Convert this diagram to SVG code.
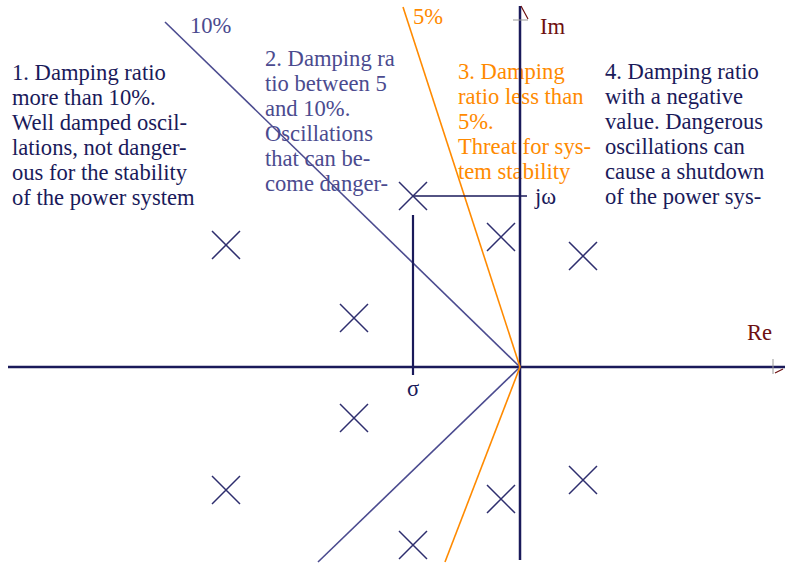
<svg xmlns="http://www.w3.org/2000/svg" width="785" height="565" viewBox="0 0 785 565">
<style>
.t{font-family:"Liberation Serif","Times New Roman","DejaVu Serif",serif;font-size:22.6px}
.navy{fill:#1a1a5a}
.slate{fill:#4b4b8f}
.orange{fill:#ff8a00}
.maroon{fill:#6e1010}
.x{stroke:#2e2e6e;stroke-width:1.5;fill:none}
</style>
<rect width="785" height="565" fill="#fff"/>
<g id="text1" class="t navy">
<text x="12" y="80">1. Damping ratio</text>
<text x="12" y="105">more than 10%.</text>
<text x="12" y="130">Well damped oscil-</text>
<text x="12" y="155">lations, not danger-</text>
<text x="12" y="180">ous for the stability</text>
<text x="12" y="205">of the power system</text>
</g>
<g id="text2" class="t slate">
<text x="265" y="66">2. Damping ra</text>
<text x="265" y="91">tio between 5</text>
<text x="265" y="116">and 10%.</text>
<text x="265" y="141">Oscillations</text>
<text x="265" y="166">that can be-</text>
<text x="265" y="191">come danger-</text>
</g>
<g id="text3" class="t orange">
<text x="458" y="79">3. Damping</text>
<text x="458" y="104">ratio less than</text>
<text x="458" y="129">5%.</text>
<text x="458" y="154">Threat for sys-</text>
<text x="458" y="179">tem stability</text>
</g>
<g id="text4" class="t navy">
<text x="605" y="79">4. Damping ratio</text>
<text x="605" y="104">with a negative</text>
<text x="605" y="129">value. Dangerous</text>
<text x="605" y="154">oscillations can</text>
<text x="605" y="179">cause a shutdown</text>
<text x="605" y="204">of the power sys-</text>
</g>
<g id="connectors">
<line x1="8" y1="367" x2="785" y2="367" stroke="#1a1a5a" stroke-width="2.5"/>
<line x1="520" y1="6" x2="520" y2="560" stroke="#1a1a5a" stroke-width="2.5"/>
<path d="M513 20 H528 M773 359 V374" stroke="#999" stroke-width="1" fill="none"/>
<path d="M521 6 L528 19 M775 373 L783 369" stroke="#6e1010" stroke-width="1.2" fill="none"/>
<line x1="165" y1="22" x2="520" y2="367" stroke="#4b4b8f" stroke-width="1.6"/>
<line x1="520" y1="367" x2="318" y2="562" stroke="#4b4b8f" stroke-width="1.6"/>
<line x1="403" y1="7" x2="520" y2="367" stroke="#ff8a00" stroke-width="1.6"/>
<line x1="520" y1="367" x2="445" y2="562" stroke="#ff8a00" stroke-width="1.6"/>
<line x1="413" y1="215" x2="413" y2="375" stroke="#1a1a5a" stroke-width="2.2"/>
<line x1="413" y1="196" x2="527" y2="196" stroke="#1a1a5a" stroke-width="1.6"/>
</g>
<g id="poles" class="x">
<path d="M212 231 l28 28 m0 -28 l-28 28"/>
<path d="M212 476 l28 28 m0 -28 l-28 28"/>
<path d="M340 304 l28 28 m0 -28 l-28 28"/>
<path d="M340 404 l28 28 m0 -28 l-28 28"/>
<path d="M399 182 l28 28 m0 -28 l-28 28"/>
<path d="M399 531 l28 28 m0 -28 l-28 28"/>
<path d="M487 223 l28 28 m0 -28 l-28 28"/>
<path d="M487 485 l28 28 m0 -28 l-28 28"/>
<path d="M569 242 l28 28 m0 -28 l-28 28"/>
<path d="M569 466 l28 28 m0 -28 l-28 28"/>
</g>
<g id="labels" class="t">
<text x="190" y="33" class="slate">10%</text>
<text x="413" y="24" class="orange">5%</text>
<text x="540" y="34" class="maroon">Im</text>
<text x="747" y="340" class="maroon">Re</text>
<text x="535" y="204" class="navy">jω</text>
<text x="407" y="396" class="navy">σ</text>
</g>
</svg>
